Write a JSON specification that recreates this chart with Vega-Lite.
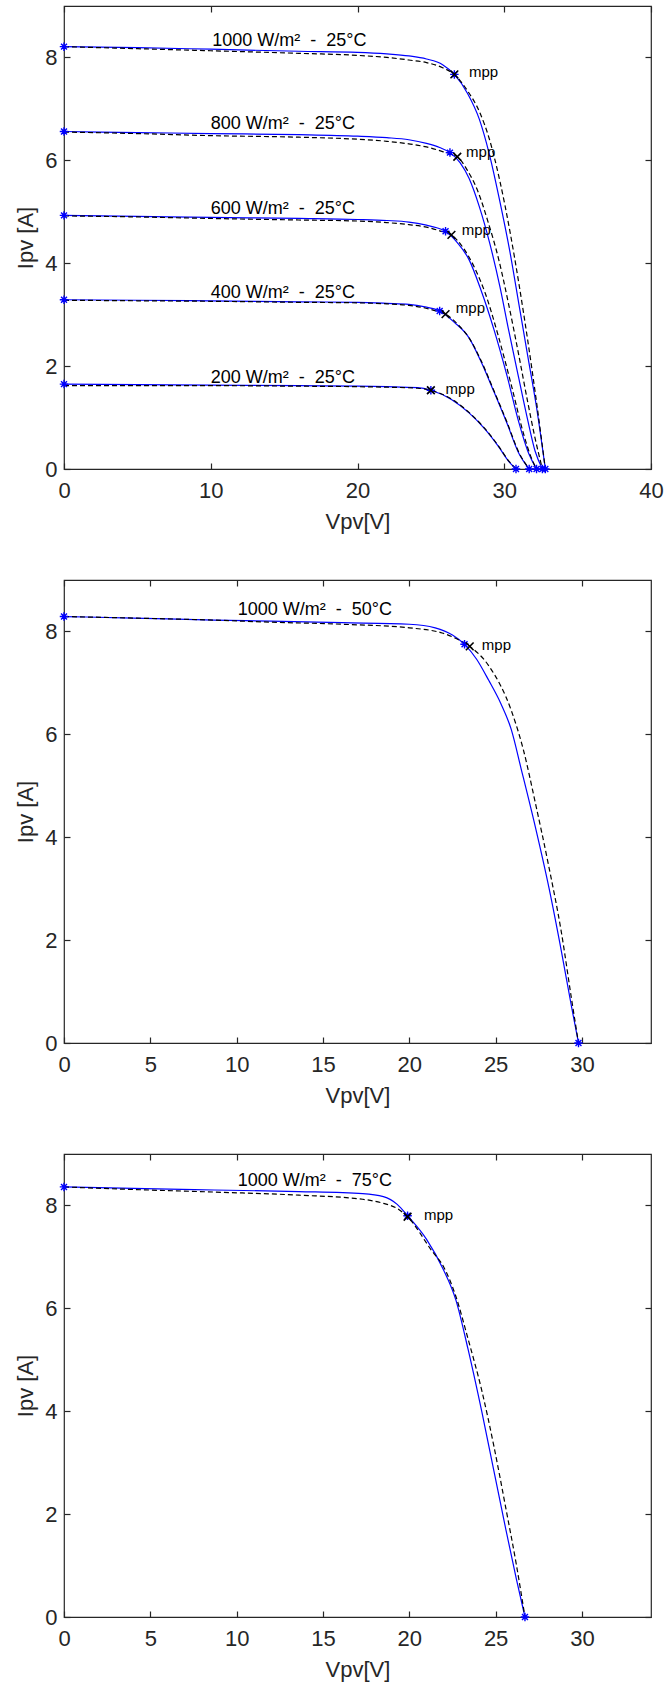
{
"$schema":"https://vega.github.io/schema/vega-lite/v6.json",
"padding":{"left":14,"top":4,"right":5,"bottom":5},
"spacing":111,
"bounds":"flush",
"datasets":{
"curves":[
{"p":1,"s":"1000","k":"m","v":0,"i":8.21},{"p":1,"s":"1000","k":"m","v":5,"i":8.19},{"p":1,"s":"1000","k":"m","v":10,"i":8.16},{"p":1,"s":"1000","k":"m","v":16,"i":8.12},{"p":1,"s":"1000","k":"m","v":20,"i":8.1},{"p":1,"s":"1000","k":"m","v":22,"i":8.07},{"p":1,"s":"1000","k":"m","v":23.5,"i":8.03},{"p":1,"s":"1000","k":"m","v":24.7,"i":7.97},{"p":1,"s":"1000","k":"m","v":25.8,"i":7.86},{"p":1,"s":"1000","k":"m","v":26.6,"i":7.67},{"p":1,"s":"1000","k":"m","v":27.5,"i":7.3},{"p":1,"s":"1000","k":"m","v":28.3,"i":6.8},{"p":1,"s":"1000","k":"m","v":29.0,"i":6.1},{"p":1,"s":"1000","k":"m","v":29.7,"i":5.2},{"p":1,"s":"1000","k":"m","v":30.4,"i":4.2},{"p":1,"s":"1000","k":"m","v":31.0,"i":3.2},{"p":1,"s":"1000","k":"m","v":31.6,"i":2.2},{"p":1,"s":"1000","k":"m","v":32.2,"i":1.2},{"p":1,"s":"1000","k":"m","v":32.8,"i":0},
{"p":1,"s":"1000","k":"d","v":0,"i":8.21},{"p":1,"s":"1000","k":"d","v":5,"i":8.17},{"p":1,"s":"1000","k":"d","v":10,"i":8.13},{"p":1,"s":"1000","k":"d","v":16,"i":8.08},{"p":1,"s":"1000","k":"d","v":20,"i":8.04},{"p":1,"s":"1000","k":"d","v":22,"i":8.0},{"p":1,"s":"1000","k":"d","v":23.5,"i":7.95},{"p":1,"s":"1000","k":"d","v":24.7,"i":7.9},{"p":1,"s":"1000","k":"d","v":25.8,"i":7.8},{"p":1,"s":"1000","k":"d","v":26.6,"i":7.67},{"p":1,"s":"1000","k":"d","v":27.5,"i":7.35},{"p":1,"s":"1000","k":"d","v":28.3,"i":6.95},{"p":1,"s":"1000","k":"d","v":29.0,"i":6.4},{"p":1,"s":"1000","k":"d","v":29.7,"i":5.6},{"p":1,"s":"1000","k":"d","v":30.4,"i":4.6},{"p":1,"s":"1000","k":"d","v":31.0,"i":3.6},{"p":1,"s":"1000","k":"d","v":31.6,"i":2.5},{"p":1,"s":"1000","k":"d","v":32.2,"i":1.3},{"p":1,"s":"1000","k":"d","v":32.8,"i":0},
{"p":1,"s":"800","k":"m","v":0,"i":6.56},{"p":1,"s":"800","k":"m","v":5,"i":6.54},{"p":1,"s":"800","k":"m","v":10,"i":6.52},{"p":1,"s":"800","k":"m","v":16,"i":6.5},{"p":1,"s":"800","k":"m","v":20,"i":6.47},{"p":1,"s":"800","k":"m","v":22,"i":6.44},{"p":1,"s":"800","k":"m","v":23.5,"i":6.4},{"p":1,"s":"800","k":"m","v":24.7,"i":6.33},{"p":1,"s":"800","k":"m","v":25.6,"i":6.25},{"p":1,"s":"800","k":"m","v":26.3,"i":6.15},{"p":1,"s":"800","k":"m","v":27.0,"i":5.95},{"p":1,"s":"800","k":"m","v":27.6,"i":5.65},{"p":1,"s":"800","k":"m","v":28.3,"i":5.1},{"p":1,"s":"800","k":"m","v":29.0,"i":4.4},{"p":1,"s":"800","k":"m","v":29.7,"i":3.55},{"p":1,"s":"800","k":"m","v":30.3,"i":2.7},{"p":1,"s":"800","k":"m","v":31.0,"i":1.75},{"p":1,"s":"800","k":"m","v":31.6,"i":0.95},{"p":1,"s":"800","k":"m","v":32.1,"i":0.35},{"p":1,"s":"800","k":"m","v":32.6,"i":0},
{"p":1,"s":"800","k":"d","v":0,"i":6.55},{"p":1,"s":"800","k":"d","v":5,"i":6.52},{"p":1,"s":"800","k":"d","v":10,"i":6.48},{"p":1,"s":"800","k":"d","v":16,"i":6.45},{"p":1,"s":"800","k":"d","v":20,"i":6.41},{"p":1,"s":"800","k":"d","v":22,"i":6.37},{"p":1,"s":"800","k":"d","v":23.5,"i":6.32},{"p":1,"s":"800","k":"d","v":24.7,"i":6.26},{"p":1,"s":"800","k":"d","v":25.8,"i":6.17},{"p":1,"s":"800","k":"d","v":26.8,"i":6.07},{"p":1,"s":"800","k":"d","v":27.5,"i":5.8},{"p":1,"s":"800","k":"d","v":28.2,"i":5.4},{"p":1,"s":"800","k":"d","v":28.9,"i":4.8},{"p":1,"s":"800","k":"d","v":29.6,"i":4.1},{"p":1,"s":"800","k":"d","v":30.3,"i":3.2},{"p":1,"s":"800","k":"d","v":31.0,"i":2.2},{"p":1,"s":"800","k":"d","v":31.6,"i":1.3},{"p":1,"s":"800","k":"d","v":32.1,"i":0.6},{"p":1,"s":"800","k":"d","v":32.6,"i":0},
{"p":1,"s":"600","k":"m","v":0,"i":4.93},{"p":1,"s":"600","k":"m","v":5,"i":4.91},{"p":1,"s":"600","k":"m","v":10,"i":4.89},{"p":1,"s":"600","k":"m","v":16,"i":4.87},{"p":1,"s":"600","k":"m","v":20,"i":4.85},{"p":1,"s":"600","k":"m","v":22,"i":4.83},{"p":1,"s":"600","k":"m","v":23.5,"i":4.8},{"p":1,"s":"600","k":"m","v":24.7,"i":4.74},{"p":1,"s":"600","k":"m","v":25.4,"i":4.69},{"p":1,"s":"600","k":"m","v":26.0,"i":4.62},{"p":1,"s":"600","k":"m","v":26.8,"i":4.4},{"p":1,"s":"600","k":"m","v":27.6,"i":4.07},{"p":1,"s":"600","k":"m","v":28.4,"i":3.49},{"p":1,"s":"600","k":"m","v":29.3,"i":2.71},{"p":1,"s":"600","k":"m","v":30.2,"i":1.8},{"p":1,"s":"600","k":"m","v":31.0,"i":0.9},{"p":1,"s":"600","k":"m","v":31.6,"i":0.35},{"p":1,"s":"600","k":"m","v":32.2,"i":0},
{"p":1,"s":"600","k":"d","v":0,"i":4.92},{"p":1,"s":"600","k":"d","v":5,"i":4.9},{"p":1,"s":"600","k":"d","v":10,"i":4.87},{"p":1,"s":"600","k":"d","v":16,"i":4.84},{"p":1,"s":"600","k":"d","v":20,"i":4.82},{"p":1,"s":"600","k":"d","v":22,"i":4.79},{"p":1,"s":"600","k":"d","v":23.5,"i":4.75},{"p":1,"s":"600","k":"d","v":24.7,"i":4.7},{"p":1,"s":"600","k":"d","v":25.6,"i":4.63},{"p":1,"s":"600","k":"d","v":26.4,"i":4.55},{"p":1,"s":"600","k":"d","v":27.2,"i":4.3},{"p":1,"s":"600","k":"d","v":28.0,"i":3.9},{"p":1,"s":"600","k":"d","v":28.7,"i":3.42},{"p":1,"s":"600","k":"d","v":29.6,"i":2.58},{"p":1,"s":"600","k":"d","v":30.5,"i":1.61},{"p":1,"s":"600","k":"d","v":31.3,"i":0.7},{"p":1,"s":"600","k":"d","v":31.8,"i":0.25},{"p":1,"s":"600","k":"d","v":32.2,"i":0},
{"p":1,"s":"400","k":"m","v":0,"i":3.29},{"p":1,"s":"400","k":"m","v":5,"i":3.28},{"p":1,"s":"400","k":"m","v":10,"i":3.27},{"p":1,"s":"400","k":"m","v":16,"i":3.25},{"p":1,"s":"400","k":"m","v":20,"i":3.24},{"p":1,"s":"400","k":"m","v":22,"i":3.22},{"p":1,"s":"400","k":"m","v":23.5,"i":3.2},{"p":1,"s":"400","k":"m","v":24.6,"i":3.15},{"p":1,"s":"400","k":"m","v":25.6,"i":3.07},{"p":1,"s":"400","k":"m","v":26.6,"i":2.85},{"p":1,"s":"400","k":"m","v":27.6,"i":2.55},{"p":1,"s":"400","k":"m","v":28.4,"i":2.1},{"p":1,"s":"400","k":"m","v":29.3,"i":1.5},{"p":1,"s":"400","k":"m","v":30.2,"i":0.88},{"p":1,"s":"400","k":"m","v":31.0,"i":0.3},{"p":1,"s":"400","k":"m","v":31.7,"i":0},
{"p":1,"s":"400","k":"d","v":0,"i":3.28},{"p":1,"s":"400","k":"d","v":5,"i":3.27},{"p":1,"s":"400","k":"d","v":10,"i":3.26},{"p":1,"s":"400","k":"d","v":16,"i":3.24},{"p":1,"s":"400","k":"d","v":20,"i":3.23},{"p":1,"s":"400","k":"d","v":22,"i":3.21},{"p":1,"s":"400","k":"d","v":23.5,"i":3.18},{"p":1,"s":"400","k":"d","v":24.6,"i":3.13},{"p":1,"s":"400","k":"d","v":25.6,"i":3.05},{"p":1,"s":"400","k":"d","v":26.0,"i":3.01},{"p":1,"s":"400","k":"d","v":26.8,"i":2.82},{"p":1,"s":"400","k":"d","v":27.6,"i":2.55},{"p":1,"s":"400","k":"d","v":28.4,"i":2.12},{"p":1,"s":"400","k":"d","v":29.3,"i":1.52},{"p":1,"s":"400","k":"d","v":30.2,"i":0.9},{"p":1,"s":"400","k":"d","v":31.0,"i":0.32},{"p":1,"s":"400","k":"d","v":31.7,"i":0},
{"p":1,"s":"200","k":"m","v":0,"i":1.65},{"p":1,"s":"200","k":"m","v":5,"i":1.64},{"p":1,"s":"200","k":"m","v":10,"i":1.63},{"p":1,"s":"200","k":"m","v":16,"i":1.62},{"p":1,"s":"200","k":"m","v":20,"i":1.61},{"p":1,"s":"200","k":"m","v":22,"i":1.6},{"p":1,"s":"200","k":"m","v":24.1,"i":1.58},{"p":1,"s":"200","k":"m","v":25.0,"i":1.53},{"p":1,"s":"200","k":"m","v":26.4,"i":1.35},{"p":1,"s":"200","k":"m","v":27.6,"i":1.09},{"p":1,"s":"200","k":"m","v":28.7,"i":0.77},{"p":1,"s":"200","k":"m","v":29.6,"i":0.44},{"p":1,"s":"200","k":"m","v":30.3,"i":0.15},{"p":1,"s":"200","k":"m","v":30.8,"i":0},
{"p":1,"s":"200","k":"d","v":0,"i":1.62},{"p":1,"s":"200","k":"d","v":5,"i":1.62},{"p":1,"s":"200","k":"d","v":10,"i":1.62},{"p":1,"s":"200","k":"d","v":16,"i":1.61},{"p":1,"s":"200","k":"d","v":20,"i":1.6},{"p":1,"s":"200","k":"d","v":22,"i":1.59},{"p":1,"s":"200","k":"d","v":24.1,"i":1.57},{"p":1,"s":"200","k":"d","v":25.0,"i":1.53},{"p":1,"s":"200","k":"d","v":26.4,"i":1.36},{"p":1,"s":"200","k":"d","v":27.6,"i":1.1},{"p":1,"s":"200","k":"d","v":28.7,"i":0.78},{"p":1,"s":"200","k":"d","v":29.6,"i":0.45},{"p":1,"s":"200","k":"d","v":30.3,"i":0.16},{"p":1,"s":"200","k":"d","v":30.8,"i":0},
{"p":2,"s":"1000","k":"m","v":0,"i":8.29},{"p":2,"s":"1000","k":"m","v":4,"i":8.26},{"p":2,"s":"1000","k":"m","v":8.7,"i":8.22},{"p":2,"s":"1000","k":"m","v":12,"i":8.2},{"p":2,"s":"1000","k":"m","v":16.1,"i":8.17},{"p":2,"s":"1000","k":"m","v":20,"i":8.14},{"p":2,"s":"1000","k":"m","v":21.5,"i":8.07},{"p":2,"s":"1000","k":"m","v":22.5,"i":7.93},{"p":2,"s":"1000","k":"m","v":23.2,"i":7.75},{"p":2,"s":"1000","k":"m","v":23.9,"i":7.46},{"p":2,"s":"1000","k":"m","v":24.6,"i":7.05},{"p":2,"s":"1000","k":"m","v":25.3,"i":6.6},{"p":2,"s":"1000","k":"m","v":25.9,"i":6.1},{"p":2,"s":"1000","k":"m","v":26.5,"i":5.3},{"p":2,"s":"1000","k":"m","v":27.3,"i":4.2},{"p":2,"s":"1000","k":"m","v":28.1,"i":3.0},{"p":2,"s":"1000","k":"m","v":28.8,"i":1.8},{"p":2,"s":"1000","k":"m","v":29.4,"i":0.7},{"p":2,"s":"1000","k":"m","v":29.8,"i":0},
{"p":2,"s":"1000","k":"d","v":0,"i":8.29},{"p":2,"s":"1000","k":"d","v":4,"i":8.26},{"p":2,"s":"1000","k":"d","v":8.7,"i":8.22},{"p":2,"s":"1000","k":"d","v":12,"i":8.18},{"p":2,"s":"1000","k":"d","v":16.1,"i":8.14},{"p":2,"s":"1000","k":"d","v":20,"i":8.07},{"p":2,"s":"1000","k":"d","v":21.9,"i":7.97},{"p":2,"s":"1000","k":"d","v":22.9,"i":7.83},{"p":2,"s":"1000","k":"d","v":23.5,"i":7.71},{"p":2,"s":"1000","k":"d","v":24.65,"i":7.31},{"p":2,"s":"1000","k":"d","v":25.9,"i":6.47},{"p":2,"s":"1000","k":"d","v":26.6,"i":5.71},{"p":2,"s":"1000","k":"d","v":27.3,"i":4.67},{"p":2,"s":"1000","k":"d","v":28.1,"i":3.4},{"p":2,"s":"1000","k":"d","v":28.8,"i":2.17},{"p":2,"s":"1000","k":"d","v":29.4,"i":0.85},{"p":2,"s":"1000","k":"d","v":29.8,"i":0},
{"p":3,"s":"1000","k":"m","v":0,"i":8.36},{"p":3,"s":"1000","k":"m","v":4,"i":8.33},{"p":3,"s":"1000","k":"m","v":8.7,"i":8.3},{"p":3,"s":"1000","k":"m","v":13.6,"i":8.27},{"p":3,"s":"1000","k":"m","v":17.3,"i":8.23},{"p":3,"s":"1000","k":"m","v":18.5,"i":8.17},{"p":3,"s":"1000","k":"m","v":19.3,"i":8.02},{"p":3,"s":"1000","k":"m","v":19.9,"i":7.8},{"p":3,"s":"1000","k":"m","v":21.0,"i":7.34},{"p":3,"s":"1000","k":"m","v":21.95,"i":6.77},{"p":3,"s":"1000","k":"m","v":22.7,"i":6.16},{"p":3,"s":"1000","k":"m","v":23.4,"i":5.21},{"p":3,"s":"1000","k":"m","v":24.2,"i":3.99},{"p":3,"s":"1000","k":"m","v":24.9,"i":2.84},{"p":3,"s":"1000","k":"m","v":25.6,"i":1.69},{"p":3,"s":"1000","k":"m","v":26.2,"i":0.74},{"p":3,"s":"1000","k":"m","v":26.7,"i":0},
{"p":3,"s":"1000","k":"d","v":0,"i":8.36},{"p":3,"s":"1000","k":"d","v":4,"i":8.31},{"p":3,"s":"1000","k":"d","v":8.7,"i":8.26},{"p":3,"s":"1000","k":"d","v":13.6,"i":8.2},{"p":3,"s":"1000","k":"d","v":17.3,"i":8.12},{"p":3,"s":"1000","k":"d","v":18.5,"i":8.04},{"p":3,"s":"1000","k":"d","v":19.3,"i":7.94},{"p":3,"s":"1000","k":"d","v":19.9,"i":7.78},{"p":3,"s":"1000","k":"d","v":21.3,"i":7.12},{"p":3,"s":"1000","k":"d","v":22.0,"i":6.8},{"p":3,"s":"1000","k":"d","v":22.7,"i":6.23},{"p":3,"s":"1000","k":"d","v":23.4,"i":5.41},{"p":3,"s":"1000","k":"d","v":24.2,"i":4.4},{"p":3,"s":"1000","k":"d","v":24.9,"i":3.32},{"p":3,"s":"1000","k":"d","v":25.6,"i":2.1},{"p":3,"s":"1000","k":"d","v":26.2,"i":1.02},{"p":3,"s":"1000","k":"d","v":26.7,"i":0}
],
"marks":[
{"p":1,"t":"star","v":0,"i":8.21},{"p":1,"t":"star","v":0,"i":6.56},{"p":1,"t":"star","v":0,"i":4.93},{"p":1,"t":"star","v":0,"i":3.29},{"p":1,"t":"star","v":0,"i":1.65},
{"p":1,"t":"star","v":26.6,"i":7.67},{"p":1,"t":"star","v":26.3,"i":6.15},{"p":1,"t":"star","v":26.0,"i":4.62},{"p":1,"t":"star","v":25.6,"i":3.07},{"p":1,"t":"star","v":25.0,"i":1.53},
{"p":1,"t":"star","v":32.8,"i":0},{"p":1,"t":"star","v":32.6,"i":0},{"p":1,"t":"star","v":32.2,"i":0},{"p":1,"t":"star","v":31.7,"i":0},{"p":1,"t":"star","v":30.8,"i":0},
{"p":1,"t":"x","v":26.6,"i":7.67},{"p":1,"t":"x","v":26.8,"i":6.07},{"p":1,"t":"x","v":26.4,"i":4.55},{"p":1,"t":"x","v":26.0,"i":3.01},{"p":1,"t":"x","v":25.0,"i":1.53},
{"p":2,"t":"star","v":0,"i":8.29},{"p":2,"t":"star","v":23.2,"i":7.75},{"p":2,"t":"star","v":29.8,"i":0},{"p":2,"t":"x","v":23.5,"i":7.71},
{"p":3,"t":"star","v":0,"i":8.36},{"p":3,"t":"star","v":19.9,"i":7.8},{"p":3,"t":"star","v":26.7,"i":0},{"p":3,"t":"x","v":19.9,"i":7.78}
],
"labels":[
{"p":1,"t":"title","v":10.1,"i":8.32,"txt":"1000 W/m²\u00a0 -\u00a0 25°C"},
{"p":1,"t":"title","v":10.0,"i":6.7,"txt":"800 W/m²\u00a0 -\u00a0 25°C"},
{"p":1,"t":"title","v":10.0,"i":5.06,"txt":"600 W/m²\u00a0 -\u00a0 25°C"},
{"p":1,"t":"title","v":10.0,"i":3.42,"txt":"400 W/m²\u00a0 -\u00a0 25°C"},
{"p":1,"t":"title","v":10.0,"i":1.77,"txt":"200 W/m²\u00a0 -\u00a0 25°C"},
{"p":1,"t":"mpp","v":27.6,"i":7.72,"txt":"mpp"},
{"p":1,"t":"mpp","v":27.4,"i":6.17,"txt":"mpp"},
{"p":1,"t":"mpp","v":27.1,"i":4.64,"txt":"mpp"},
{"p":1,"t":"mpp","v":26.7,"i":3.12,"txt":"mpp"},
{"p":1,"t":"mpp","v":26.0,"i":1.56,"txt":"mpp"},
{"p":2,"t":"title","v":10.06,"i":8.42,"txt":"1000 W/m²\u00a0 -\u00a0 50°C"},
{"p":2,"t":"mpp","v":24.2,"i":7.74,"txt":"mpp"},
{"p":3,"t":"title","v":10.06,"i":8.47,"txt":"1000 W/m²\u00a0 -\u00a0 75°C"},
{"p":3,"t":"mpp","v":20.85,"i":7.82,"txt":"mpp"}
]
},
"vconcat":[
{"width":587,"height":463,
 "resolve":{"axis":{"x":"independent","y":"independent"}},
 "layer":[
  {"data":{"name":"curves"},"transform":[{"filter":"datum.p==1 && datum.k=='m'"}],
   "mark":{"type":"line","color":"#0000ff","strokeWidth":1.2,"interpolate":"monotone"},
   "encoding":{"x":{"field":"v","type":"quantitative","scale":{"domain":[0,40],"nice":false,"zero":false},"axis":{"orient":"bottom","values":[0,10,20,30,40],"title":"Vpv[V]"}},
               "y":{"field":"i","type":"quantitative","scale":{"domain":[0,9],"nice":false},"axis":{"orient":"left","values":[0,2,4,6,8],"title":"Ipv [A]"}},
               "detail":{"field":"s"}}},
  {"data":{"name":"curves"},"transform":[{"filter":"datum.p==1 && datum.k=='d'"}],
   "mark":{"type":"line","color":"#000000","strokeWidth":1.2,"strokeDash":[5,3],"interpolate":"monotone"},
   "encoding":{"x":{"field":"v","type":"quantitative","axis":{"orient":"top","values":[0,10,20,30,40],"labels":false,"title":null}},
               "y":{"field":"i","type":"quantitative","axis":{"orient":"right","values":[0,2,4,6,8],"labels":false,"title":null}},
               "detail":{"field":"s"}}},
  {"data":{"name":"marks"},"transform":[{"filter":"datum.p==1 && datum.t=='star'"}],
   "mark":{"type":"point","shape":"M-1,0L1,0M0,-1L0,1M-0.7,-0.7L0.7,0.7M-0.7,0.7L0.7,-0.7","filled":false,"stroke":"#0000ff","strokeWidth":1.4,"size":72,"opacity":1},
   "encoding":{"x":{"field":"v","type":"quantitative","axis":null},"y":{"field":"i","type":"quantitative","axis":null}}},
  {"data":{"name":"marks"},"transform":[{"filter":"datum.p==1 && datum.t=='x'"}],
   "mark":{"type":"point","shape":"M-1,-1L1,1M-1,1L1,-1","filled":false,"stroke":"#000000","strokeWidth":1.6,"size":60,"opacity":1},
   "encoding":{"x":{"field":"v","type":"quantitative","axis":null},"y":{"field":"i","type":"quantitative","axis":null}}},
  {"data":{"name":"labels"},"transform":[{"filter":"datum.p==1 && datum.t=='title'"}],
   "mark":{"type":"text","align":"left","baseline":"middle","font":"Liberation Sans","fontSize":18,"color":"#000000"},
   "encoding":{"x":{"field":"v","type":"quantitative","axis":null},"y":{"field":"i","type":"quantitative","axis":null},"text":{"field":"txt"}}},
  {"data":{"name":"labels"},"transform":[{"filter":"datum.p==1 && datum.t=='mpp'"}],
   "mark":{"type":"text","align":"left","baseline":"middle","font":"Liberation Sans","fontSize":15,"color":"#000000"},
   "encoding":{"x":{"field":"v","type":"quantitative","axis":null},"y":{"field":"i","type":"quantitative","axis":null},"text":{"field":"txt"}}}
 ]},
{"width":587,"height":463,
 "resolve":{"axis":{"x":"independent","y":"independent"}},
 "layer":[
  {"data":{"name":"curves"},"transform":[{"filter":"datum.p==2 && datum.k=='m'"}],
   "mark":{"type":"line","color":"#0000ff","strokeWidth":1.2,"interpolate":"monotone"},
   "encoding":{"x":{"field":"v","type":"quantitative","scale":{"domain":[0,34],"nice":false,"zero":false},"axis":{"orient":"bottom","values":[0,5,10,15,20,25,30],"title":"Vpv[V]"}},
               "y":{"field":"i","type":"quantitative","scale":{"domain":[0,9],"nice":false},"axis":{"orient":"left","values":[0,2,4,6,8],"title":"Ipv [A]"}},
               "detail":{"field":"s"}}},
  {"data":{"name":"curves"},"transform":[{"filter":"datum.p==2 && datum.k=='d'"}],
   "mark":{"type":"line","color":"#000000","strokeWidth":1.2,"strokeDash":[5,3],"interpolate":"monotone"},
   "encoding":{"x":{"field":"v","type":"quantitative","axis":{"orient":"top","values":[0,5,10,15,20,25,30],"labels":false,"title":null}},
               "y":{"field":"i","type":"quantitative","axis":{"orient":"right","values":[0,2,4,6,8],"labels":false,"title":null}},
               "detail":{"field":"s"}}},
  {"data":{"name":"marks"},"transform":[{"filter":"datum.p==2 && datum.t=='star'"}],
   "mark":{"type":"point","shape":"M-1,0L1,0M0,-1L0,1M-0.7,-0.7L0.7,0.7M-0.7,0.7L0.7,-0.7","filled":false,"stroke":"#0000ff","strokeWidth":1.4,"size":72,"opacity":1},
   "encoding":{"x":{"field":"v","type":"quantitative","axis":null},"y":{"field":"i","type":"quantitative","axis":null}}},
  {"data":{"name":"marks"},"transform":[{"filter":"datum.p==2 && datum.t=='x'"}],
   "mark":{"type":"point","shape":"M-1,-1L1,1M-1,1L1,-1","filled":false,"stroke":"#000000","strokeWidth":1.6,"size":60,"opacity":1},
   "encoding":{"x":{"field":"v","type":"quantitative","axis":null},"y":{"field":"i","type":"quantitative","axis":null}}},
  {"data":{"name":"labels"},"transform":[{"filter":"datum.p==2 && datum.t=='title'"}],
   "mark":{"type":"text","align":"left","baseline":"middle","font":"Liberation Sans","fontSize":18,"color":"#000000"},
   "encoding":{"x":{"field":"v","type":"quantitative","axis":null},"y":{"field":"i","type":"quantitative","axis":null},"text":{"field":"txt"}}},
  {"data":{"name":"labels"},"transform":[{"filter":"datum.p==2 && datum.t=='mpp'"}],
   "mark":{"type":"text","align":"left","baseline":"middle","font":"Liberation Sans","fontSize":15,"color":"#000000"},
   "encoding":{"x":{"field":"v","type":"quantitative","axis":null},"y":{"field":"i","type":"quantitative","axis":null},"text":{"field":"txt"}}}
 ]},
{"width":587,"height":463,
 "resolve":{"axis":{"x":"independent","y":"independent"}},
 "layer":[
  {"data":{"name":"curves"},"transform":[{"filter":"datum.p==3 && datum.k=='m'"}],
   "mark":{"type":"line","color":"#0000ff","strokeWidth":1.2,"interpolate":"monotone"},
   "encoding":{"x":{"field":"v","type":"quantitative","scale":{"domain":[0,34],"nice":false,"zero":false},"axis":{"orient":"bottom","values":[0,5,10,15,20,25,30],"title":"Vpv[V]"}},
               "y":{"field":"i","type":"quantitative","scale":{"domain":[0,9],"nice":false},"axis":{"orient":"left","values":[0,2,4,6,8],"title":"Ipv [A]"}},
               "detail":{"field":"s"}}},
  {"data":{"name":"curves"},"transform":[{"filter":"datum.p==3 && datum.k=='d'"}],
   "mark":{"type":"line","color":"#000000","strokeWidth":1.2,"strokeDash":[5,3],"interpolate":"monotone"},
   "encoding":{"x":{"field":"v","type":"quantitative","axis":{"orient":"top","values":[0,5,10,15,20,25,30],"labels":false,"title":null}},
               "y":{"field":"i","type":"quantitative","axis":{"orient":"right","values":[0,2,4,6,8],"labels":false,"title":null}},
               "detail":{"field":"s"}}},
  {"data":{"name":"marks"},"transform":[{"filter":"datum.p==3 && datum.t=='star'"}],
   "mark":{"type":"point","shape":"M-1,0L1,0M0,-1L0,1M-0.7,-0.7L0.7,0.7M-0.7,0.7L0.7,-0.7","filled":false,"stroke":"#0000ff","strokeWidth":1.4,"size":72,"opacity":1},
   "encoding":{"x":{"field":"v","type":"quantitative","axis":null},"y":{"field":"i","type":"quantitative","axis":null}}},
  {"data":{"name":"marks"},"transform":[{"filter":"datum.p==3 && datum.t=='x'"}],
   "mark":{"type":"point","shape":"M-1,-1L1,1M-1,1L1,-1","filled":false,"stroke":"#000000","strokeWidth":1.6,"size":60,"opacity":1},
   "encoding":{"x":{"field":"v","type":"quantitative","axis":null},"y":{"field":"i","type":"quantitative","axis":null}}},
  {"data":{"name":"labels"},"transform":[{"filter":"datum.p==3 && datum.t=='title'"}],
   "mark":{"type":"text","align":"left","baseline":"middle","font":"Liberation Sans","fontSize":18,"color":"#000000"},
   "encoding":{"x":{"field":"v","type":"quantitative","axis":null},"y":{"field":"i","type":"quantitative","axis":null},"text":{"field":"txt"}}},
  {"data":{"name":"labels"},"transform":[{"filter":"datum.p==3 && datum.t=='mpp'"}],
   "mark":{"type":"text","align":"left","baseline":"middle","font":"Liberation Sans","fontSize":15,"color":"#000000"},
   "encoding":{"x":{"field":"v","type":"quantitative","axis":null},"y":{"field":"i","type":"quantitative","axis":null},"text":{"field":"txt"}}}
 ]}
],
"config":{
 "background":"#ffffff",
 "view":{"stroke":"#262626","strokeWidth":1.2},
 "axis":{"domain":false,"grid":false,"ticks":true,"tickSize":-6,"tickColor":"#262626","tickWidth":1.2,"labelFlush":false,
         "labelFont":"Liberation Sans","labelFontSize":22,"labelColor":"#262626",
         "titleFont":"Liberation Sans","titleFontSize":22,"titleFontWeight":"normal","titleColor":"#262626"},
 "axisBottom":{"labelPadding":17,"titlePadding":10},
 "axisLeft":{"labelPadding":13,"titlePadding":7},
 "axisTop":{"labelPadding":0},
 "axisRight":{"labelPadding":0}
}
}
